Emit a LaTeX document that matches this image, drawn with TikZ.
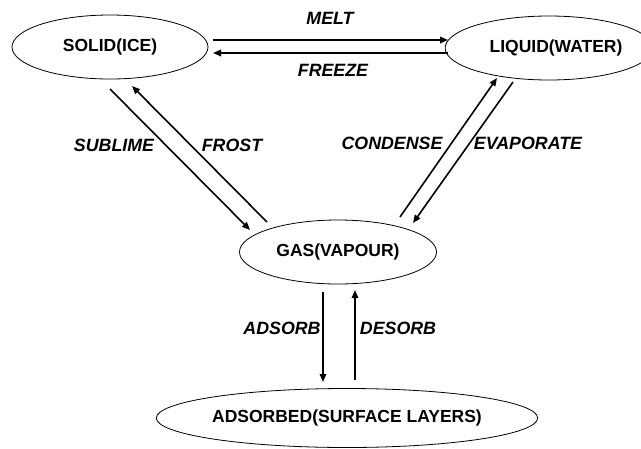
\documentclass[tikz,border=0pt]{standalone}
\usepackage{fontspec}
\setmainfont{Liberation Sans}
\usetikzlibrary{shapes.geometric,arrows.meta}
\tikzset{
  state/.style={draw, ellipse, line width=0.8pt, inner sep=0pt, font=\fontsize{17.5}{20}\selectfont\bfseries},
  arr/.style={line width=1.6pt, -{Triangle[length=8pt,width=6.5pt]}},
  lab/.style={font=\fontsize{17.8}{20}\selectfont\bfseries\itshape, inner sep=0pt}
}
\begin{document}
\begin{tikzpicture}[x=1pt,y=-1pt]
\useasboundingbox (0,0) rectangle (641,448);
\node[state, minimum width=196pt, minimum height=64pt] (solid) at (110,47) {SOLID(ICE)\hspace{4pt}};
\node[state, minimum width=182pt, minimum height=64pt] (liquid) at (549,48) {\hspace{14pt}LIQUID(WATER)};
\node[state, minimum width=197pt, minimum height=64pt] (gas) at (338,252) {GAS(VAPOUR)};
\node[state, minimum width=379pt, minimum height=59pt] (ads) at (347,418) {ADSORBED(SURFACE LAYERS)};
% endpoints
\coordinate (m1) at (213,40); \coordinate (m2) at (448,40);
\coordinate (f1) at (448,53); \coordinate (f2) at (213,53);
\coordinate (s1) at (110,89); \coordinate (s2) at (250,230);
\coordinate (r1) at (267,222); \coordinate (r2) at (132,86);
\coordinate (c1) at (400,217); \coordinate (c2) at (497,78);
\coordinate (e1) at (513,82); \coordinate (e2) at (413,223);
\coordinate (a1) at (323,292); \coordinate (a2) at (323,382);
\coordinate (d1) at (355,380); \coordinate (d2) at (355,290);
\draw[arr] (m1) -- (m2);
\draw[arr] (f1) -- (f2);
\draw[arr] (s1) -- (s2);
\draw[arr] (r1) -- (r2);
\draw[arr] (c1) -- (c2);
\draw[arr] (e1) -- (e2);
\draw[arr] (a1) -- (a2);
\draw[arr] (d1) -- (d2);
\node[lab] (lmelt) at (330,18) {MELT};
\node[lab] (lfreeze) at (333,70) {FREEZE};
\node[lab] (lsub) at (114,145) {SUBLIME};
\node[lab] (lfrost) at (232,145) {FROST};
\node[lab] (lcond) at (392,143) {CONDENSE};
\node[lab] (levap) at (528,143) {EVAPORATE};
\node[lab] (ladsorb) at (282,328) {ADSORB};
\node[lab] (ldesorb) at (398,328) {DESORB};
\end{tikzpicture}
\end{document}
